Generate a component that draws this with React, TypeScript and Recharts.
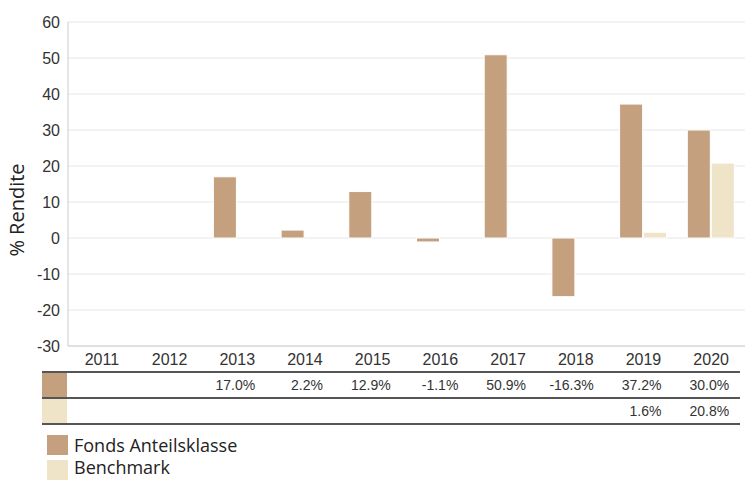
import React from "react";
import { Bar, BarChart, CartesianGrid, XAxis, YAxis } from "recharts";

const years = ["2011", "2012", "2013", "2014", "2015", "2016", "2017", "2018", "2019", "2020"];
const fondsValues: (number | null)[] = [null, null, 17.0, 2.2, 12.9, -1.1, 50.9, -16.3, 37.2, 30.0];
const benchmarkValues: (number | null)[] = [null, null, null, null, null, null, null, null, 1.6, 20.8];
const yTicks = [-30, -20, -10, 0, 10, 20, 30, 40, 50, 60];

const FONDS = "#c4a07e";
const BENCH = "#efe3c8";

const data = years.map((year, i) => ({
  year,
  fonds: fondsValues[i],
  benchmark: benchmarkValues[i],
}));

// plot geometry, shared with the table below the chart
const plotLeft = 68;
const plotWidth = 677;
const band = plotWidth / years.length;

const fmt = (v: number | null) => (v == null ? "" : v.toFixed(1) + "%");

function YLabel() {
  return (
    <text
      x={16}
      y={210}
      transform="rotate(-90 16 210)"
      textAnchor="middle"
      dominantBaseline="central"
      fontFamily="Open Sans"
      fontSize={20}
      fill="#222"
    >
      % Rendite
    </text>
  );
}

function TableRow({ values, color, top }: { values: (number | null)[]; color: string; top: number }) {
  return (
    <>
      <div style={{ position: "absolute", left: 42, top: top, width: 25, height: 24, background: color }} />
      {values.map((v, i) => (
        <div
          key={i}
          style={{
            position: "absolute",
            left: plotLeft + i * band,
            width: band / 2 + 18,
            top: top + 4,
            textAlign: "right",
            fontFamily: "Liberation Sans",
            fontSize: 14,
            color: "#333",
          }}
        >
          {fmt(v)}
        </div>
      ))}
    </>
  );
}

export default function App() {
  return (
    <div style={{ position: "absolute", left: 0, top: 0, width: 745, height: 480, background: "#fff", overflow: "hidden" }}>
      <BarChart
        width={745}
        height={370}
        data={data}
        margin={{ top: 22, right: 0, left: 0, bottom: 0 }}
        barSize={23}
        barGap={1}
      >
        <CartesianGrid vertical={false} stroke="#e6e6e6" />
        <XAxis
          dataKey="year"
          height={24}
          tickLine={false}
          axisLine={{ stroke: "#cccccc" }}
          tick={{ fill: "#333", fontSize: 16, fontFamily: "Liberation Sans" }}
          interval={0}
        />
        <YAxis
          width={68}
          domain={[-30, 60]}
          ticks={yTicks}
          tickLine={false}
          axisLine={{ stroke: "#cccccc" }}
          tick={{ fill: "#333", fontSize: 16, fontFamily: "Liberation Sans" }}
          label={{ content: <YLabel /> }}
        />
        <Bar dataKey="fonds" fill={FONDS} stroke="#fff" strokeWidth={1} isAnimationActive={false} />
        <Bar dataKey="benchmark" fill={BENCH} stroke="#fff" strokeWidth={1} isAnimationActive={false} />
      </BarChart>

      {/* value table under the axis */}
      <div style={{ position: "absolute", left: 42, top: 371, width: 698, height: 2, background: "#555" }} />
      <TableRow values={fondsValues} color={FONDS} top={373} />
      <div style={{ position: "absolute", left: 42, top: 397, width: 698, height: 2, background: "#555" }} />
      <TableRow values={benchmarkValues} color={BENCH} top={399} />
      <div style={{ position: "absolute", left: 42, top: 423, width: 698, height: 2, background: "#555" }} />

      {/* legend */}
      {[
        { name: "Fonds Anteilsklasse", color: FONDS, top: 435, textTop: 0 },
        { name: "Benchmark", color: BENCH, top: 460, textTop: -3 },
      ].map((item) => (
        <div key={item.name} style={{ position: "absolute", left: 47, top: item.top, height: 20 }}>
          <div style={{ position: "absolute", left: 0, top: 0, width: 21, height: 20, background: item.color }} />
          <div
            style={{
              position: "absolute",
              left: 27,
              top: item.textTop,
              whiteSpace: "nowrap",
              fontFamily: "Open Sans",
              fontSize: 18,
              lineHeight: "20px",
              color: "#222",
            }}
          >
            {item.name}
          </div>
        </div>
      ))}
    </div>
  );
}
